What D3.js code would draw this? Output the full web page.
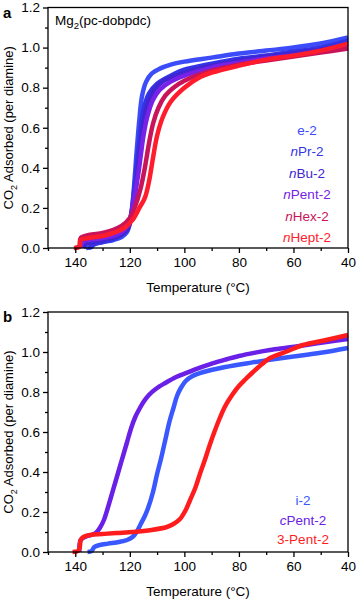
<!DOCTYPE html>
<html>
<head>
<meta charset="utf-8">
<script src="https://cdn.jsdelivr.net/npm/d3@7"></script>
<style>
  html, body { margin: 0; padding: 0; background: #fff; }
  svg { display: block; font-family: Arial, "Liberation Sans", sans-serif; }
</style>
</head>
<body>
<div id="chart"></div>
<script>
// ---- data : [temperature °C, CO2 per diamine]
const e2 = [[136,0],[134,0.005],[133.5,0.02],[130,0.03],[126,0.04],[123,0.055],[121,0.08],[119.5,0.16],[118.5,0.3],[117.5,0.48],[116.5,0.64],[115.5,0.76],[114,0.83],[112,0.87],[109,0.895],[105,0.915],[100,0.93],[90,0.95],[80,0.97],[70,0.985],[60,1.0],[50,1.02],[40,1.05]];
const nPr2 = [[135,0],[133.5,0.015],[130,0.03],[125,0.05],[122,0.08],[120,0.14],[119,0.22],[118,0.34],[117,0.48],[116,0.6],[115,0.69],[113,0.77],[110,0.82],[105,0.86],[100,0.89],[90,0.92],[80,0.945],[70,0.96],[60,0.98],[50,1.0],[40,1.035]];
const nBu2 = [[137,0],[136,0.02],[133,0.03],[128,0.045],[124,0.06],[121,0.09],[119.5,0.15],[118,0.28],[117,0.4],[116,0.52],[115,0.63],[113.5,0.72],[111,0.79],[108,0.83],[105,0.85],[100,0.875],[90,0.91],[80,0.935],[70,0.955],[60,0.97],[50,0.99],[40,1.02]];
const nPent2 = [[138,0],[137.5,0.03],[135,0.04],[130,0.05],[125,0.065],[122,0.09],[120,0.14],[118.5,0.24],[117,0.36],[116,0.46],[115,0.56],[113.5,0.66],[111.5,0.74],[109,0.79],[105,0.83],[100,0.86],[90,0.9],[80,0.925],[70,0.945],[60,0.96],[50,0.98],[40,1.0]];
const nHex2 = [[140,0],[138.5,0.01],[138,0.05],[135,0.065],[130,0.075],[126,0.09],[123,0.11],[120,0.15],[118,0.21],[116,0.3],[114.5,0.4],[113,0.52],[111.5,0.62],[109.5,0.7],[107,0.76],[104,0.8],[100,0.835],[90,0.885],[80,0.915],[70,0.935],[60,0.955],[50,0.975],[40,0.995]];
const nHept2 = [[140.5,0],[138.5,0.005],[138,0.04],[135,0.05],[130,0.06],[126,0.075],[122,0.1],[119,0.14],[116.5,0.2],[114.5,0.25],[113,0.33],[111.5,0.45],[110,0.56],[108,0.65],[105,0.73],[100,0.8],[94,0.855],[90,0.875],[80,0.91],[70,0.94],[60,0.96],[50,0.985],[40,1.02]];

const i2 = [[135.5,0],[134,0.005],[133,0.025],[131,0.035],[128,0.042],[124,0.05],[121,0.06],[119,0.075],[117.5,0.1],[116,0.14],[114.5,0.18],[113.3,0.22],[111.5,0.3],[110,0.39],[108.5,0.47],[107,0.56],[105.5,0.65],[104,0.72],[102.7,0.78],[101.3,0.82],[99.5,0.855],[97,0.88],[93,0.9],[85,0.925],[75,0.948],[68,0.963],[60,0.978],[50,0.996],[40,1.02]];
const cPent2 = [[138.5,0],[138,0.06],[136,0.078],[134,0.085],[132.5,0.095],[131,0.12],[129.5,0.16],[128.3,0.21],[127,0.27],[125.5,0.34],[124,0.41],[122.5,0.48],[121,0.55],[119.5,0.62],[118,0.675],[116.5,0.715],[115,0.75],[113,0.785],[110.5,0.815],[107,0.845],[103,0.875],[99,0.897],[95,0.918],[90,0.942],[85,0.962],[80,0.98],[74,0.997],[68.6,1.01],[62,1.022],[56.5,1.033],[48,1.05],[40,1.065]];
const pent3 = [[141,0],[139,0.005],[138.4,0.02],[138,0.06],[137,0.075],[134.6,0.085],[130,0.09],[125,0.095],[118.8,0.1],[112,0.11],[106.4,0.125],[104,0.14],[101.6,0.165],[99.5,0.21],[97.9,0.26],[96,0.32],[94.3,0.39],[92.5,0.46],[90.7,0.535],[89,0.6],[87,0.67],[85,0.73],[82.5,0.785],[80,0.83],[77.5,0.865],[74.8,0.9],[71.5,0.94],[68.6,0.97],[62,1.005],[56.5,1.035],[48,1.06],[40,1.085]];

const namesA = ["e-2", "nPr-2", "nBu-2", "nPent-2", "nHex-2", "nHept-2"];
const seriesA = [e2, nPr2, nBu2, nPent2, nHex2, nHept2];
const colorsA = ["#3b4cf8", "#3434e6", "#4026d2", "#7722e6", "#c8145a", "#ff1c2c"];

const namesB = ["i-2", "cPent-2", "3-Pent-2"];
const seriesB = [i2, cPent2, pent3];
const colorsB = ["#3a58ff", "#6a20e6", "#ff1c1c"];

const xTicks = [140, 120, 100, 80, 60, 40];
const xMinor = [150, 130, 110, 90, 70, 50];
const yTicks = [0, 0.2, 0.4, 0.6, 0.8, 1.0, 1.2];
const yMinor = [0.1, 0.3, 0.5, 0.7, 0.9, 1.1];

// ---- layout
const W = 357, H = 601;
const left = 48, right = 348;

const svg = d3.select("#chart").append("svg")
    .attr("width", W)
    .attr("height", H);

const x = d3.scaleLinear().domain([150, 40]).range([left, right]);

const drawPanel = (opt) => {
    const y = d3.scaleLinear().domain([0, 1.2]).range([opt.bottom, opt.top]);
    const g = svg.append("g");

    // curves
    const line = d3.line()
        .x(d => x(d[0]))
        .y(d => y(d[1]))
        .curve(d3.curveCatmullRom.alpha(0.5));

    opt.series.forEach((s, i) => {
        g.append("path")
            .datum(s)
            .attr("d", line)
            .attr("fill", "none")
            .attr("stroke", opt.colors[i])
            .attr("stroke-width", 4.5)
            .attr("stroke-linejoin", "round")
            .attr("stroke-linecap", "butt");
    });

    // frame
    g.append("rect")
        .attr("x", left)
        .attr("y", opt.top)
        .attr("width", right - left)
        .attr("height", opt.bottom - opt.top)
        .attr("fill", "none")
        .attr("stroke", "#000")
        .attr("stroke-width", 1.3);

    // bottom axis
    g.append("g")
        .attr("transform", `translate(0,${opt.bottom})`)
        .call(d3.axisBottom(x).tickValues(xTicks).tickSize(5).tickPadding(4));
    g.append("g")
        .attr("transform", `translate(0,${opt.bottom})`)
        .call(d3.axisBottom(x).tickValues(xMinor).tickSize(3).tickFormat(""));

    // left axis
    g.append("g")
        .attr("transform", `translate(${left},0)`)
        .call(d3.axisLeft(y).tickValues(yTicks).tickSize(5).tickPadding(3).tickFormat(d3.format(".1f")));
    g.append("g")
        .attr("transform", `translate(${left},0)`)
        .call(d3.axisLeft(y).tickValues(yMinor).tickSize(3).tickFormat(""));

    g.selectAll(".domain").remove();
    g.selectAll(".tick line").attr("stroke", "#000").attr("stroke-width", 1.3);
    g.selectAll(".tick text")
        .attr("fill", "#000")
        .style("font-size", "13.5px")
        .style("font-family", "Arial, 'Liberation Sans', sans-serif");

    // axis titles
    g.append("text")
        .attr("x", (left + right) / 2)
        .attr("y", opt.bottom + 44)
        .attr("text-anchor", "middle")
        .style("font-size", "13.5px")
        .text("Temperature (°C)");

    const yt = g.append("text")
        .attr("transform", `translate(13,${(opt.top + opt.bottom) / 2}) rotate(-90)`)
        .attr("text-anchor", "middle")
        .style("font-size", "13px");
    yt.append("tspan").text("CO");
    yt.append("tspan").attr("dy", 4).style("font-size", "9px").text("2");
    yt.append("tspan").attr("dy", -4).text(" Adsorbed (per diamine)");

    // panel letter
    g.append("text")
        .attr("x", 3)
        .attr("y", opt.top + 10)
        .style("font-size", "15px")
        .style("font-weight", "bold")
        .text(opt.letter);

    // legend
    opt.names.forEach((n, i) => {
        const t = g.append("text")
            .attr("x", opt.legX)
            .attr("y", opt.legY + i * opt.legStep)
            .attr("text-anchor", "middle")
            .attr("fill", opt.colors[i])
            .style("font-size", "13.5px");
        const first = n.charAt(0);
        if (first === "n" || first === "c") {
            t.append("tspan").style("font-style", "italic").text(first);
            t.append("tspan").text(n.slice(1));
        } else {
            t.text(n);
        }
    });

    return g;
};

const gA = drawPanel({
    top: 7.5, bottom: 248, letter: "a",
    series: seriesA, colors: colorsA, names: namesA,
    legX: 307, legY: 135, legStep: 21.4
});

// sample label in panel a
const mg = gA.append("text")
    .attr("x", 55)
    .attr("y", 25)
    .style("font-size", "13.5px");
mg.append("tspan").text("Mg");
mg.append("tspan").attr("dy", 4).style("font-size", "9.5px").text("2");
mg.append("tspan").attr("dy", -4).text("(pc-dobpdc)");

drawPanel({
    top: 312, bottom: 552, letter: "b",
    series: seriesB, colors: colorsB, names: namesB,
    legX: 303, legY: 505, legStep: 19.5
});
</script>
</body>
</html>
